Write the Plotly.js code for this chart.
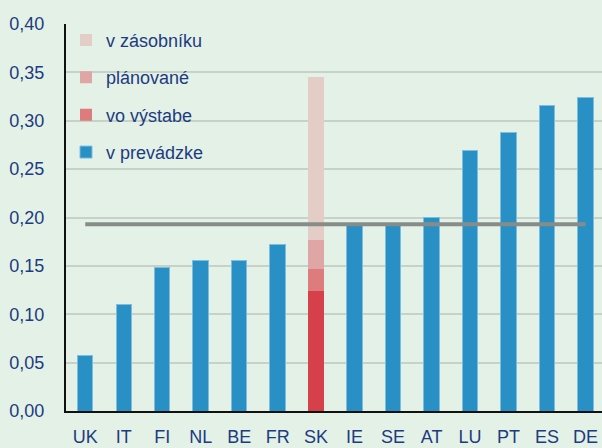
<!DOCTYPE html>
<html>
<head>
<meta charset="utf-8">
<script src="https://cdn.plot.ly/plotly-3.0.1.min.js"></script>
<style>
html,body{margin:0;padding:0;background:#e4f1e7;}
#chart{width:602px;height:448px;}
</style>
</head>
<body>
<div id="chart"></div>
<script>
const categories = ["UK","IT","FI","NL","BE","FR","SK","IE","SE","AT","LU","PT","ES","DE"];
const vPrevadzke = [0.057,0.110,0.148,0.156,0.156,0.172,0.124,0.193,0.193,0.200,0.269,0.288,0.316,0.324];
const voVystabe  = [0,0,0,0,0,0,0.023,0,0,0,0,0,0,0];
const planovane  = [0,0,0,0,0,0,0.030,0,0,0,0,0,0,0];
const vZasobniku = [0,0,0,0,0,0,0.168,0,0,0,0,0,0,0];
const euAverage = 0.193;
const seriesNames = ["v prevádzke","vo výstabe","plánované","v zásobníku"];

const blue = "#2990c5", skRed = "#d6404a";
const opColors = categories.map(c => c === "SK" ? skRed : blue);
const opLines = categories.map(c => c === "SK" ? skRed : "#7cbde0");
const txt = "#1d3b80";
const font = {family: "Liberation Sans, Arial, sans-serif", size: 18, color: txt};

const traces = [
  {type:"bar", name:seriesNames[0], x:categories, y:vPrevadzke, legendgroup:"a", legendrank:4,
   marker:{color:opColors, line:{color:opLines, width:1}}},
  {type:"bar", name:seriesNames[1], x:categories, y:voVystabe, legendgroup:"b", legendrank:3,
   marker:{color:"#de7b7c", line:{width:0}}},
  {type:"bar", name:seriesNames[2], x:categories, y:planovane, legendgroup:"c", legendrank:2,
   marker:{color:"#e0a6a5", line:{width:0}}},
  {type:"bar", name:seriesNames[3], x:categories, y:vZasobniku, legendgroup:"d", legendrank:1,
   marker:{color:"#e5cdc7", line:{width:0}}},
  {type:"scatter", mode:"lines", x:[categories[0], categories[categories.length-1]],
   y:[euAverage, euAverage], showlegend:false, hoverinfo:"skip",
   line:{color:"#878c89", width:4}}
];

const layout = {
  width:602, height:448,
  paper_bgcolor:"#e4f1e7", plot_bgcolor:"#e4f1e7",
  margin:{l:66, r:0, t:24, b:37},
  barmode:"stack", bargap:0.6,
  separators:", ",
  font:font,
  showlegend:true,
  legend:{x:0.0, y:1.006, xanchor:"left", yanchor:"top", traceorder:"grouped",
          tracegroupgap:11, bgcolor:"rgba(0,0,0,0)", font:{family:font.family, size:18, color:txt}},
  xaxis:{type:"category", range:[-0.5, 13.43], showgrid:false, showline:true,
         linecolor:"#111", linewidth:2, ticks:"", ticklabelstandoff:8, tickfont:font, fixedrange:true},
  yaxis:{range:[0,0.4], dtick:0.05, tickformat:".2f", showgrid:true, gridcolor:"#c6d1c8",
         gridwidth:2, zeroline:false, showline:true, linecolor:"#111", linewidth:2,
         ticks:"", ticklabelstandoff:16, tickfont:font}
};

Plotly.newPlot("chart", traces, layout, {displayModeBar:false, staticPlot:true});
</script>
</body>
</html>
